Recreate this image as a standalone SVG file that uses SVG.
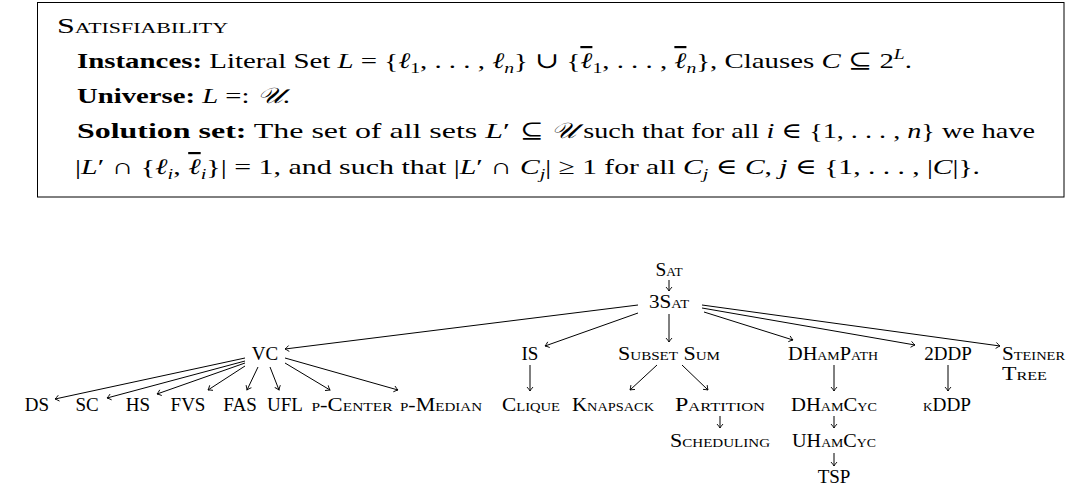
<svg xmlns="http://www.w3.org/2000/svg" width="1070" height="491" viewBox="0 0 1070 491">
<style>
text{font-family:"Liberation Serif","DejaVu Serif",serif;fill:#000}
.box text{font-size:22px}
.b{font-weight:bold}
.i{font-style:italic}
.sc{font-variant:small-caps}
.ov{text-decoration:overline}
.n text{font-size:19px;font-variant:small-caps;text-anchor:middle}
.n text.l{text-anchor:start}
.e line{stroke:#000;stroke-width:1;fill:none;marker-end:url(#ah)}
</style>
<defs>
<marker id="ah" viewBox="-5 -4 6 8" markerWidth="6" markerHeight="8" refX="0" refY="0" orient="auto" markerUnits="userSpaceOnUse">
<path d="M-4,-3 Q-1.5,-0.8 0,0 Q-1.5,0.8 -4,3" fill="none" stroke="#000" stroke-width="0.9"/>
</marker>
</defs>
<rect x="37.5" y="2.5" width="1026.5" height="194.5" fill="#fff" stroke="#000" stroke-width="1"/>
<g class="box">
<text x="57" y="33" class="sc" textLength="171" lengthAdjust="spacingAndGlyphs">Satisfiability</text>
<text x="77" y="68" textLength="835" lengthAdjust="spacingAndGlyphs"><tspan class="b">Instances:</tspan> Literal Set <tspan class="i">L</tspan> = {<tspan class="i">ℓ</tspan><tspan font-size="15" dy="5">1</tspan><tspan dy="-5">, . . . , </tspan><tspan class="i">ℓ</tspan><tspan font-size="15" class="i" dy="5">n</tspan><tspan dy="-5">} ∪ {</tspan><tspan class="i ov">ℓ</tspan><tspan font-size="15" dy="5">1</tspan><tspan dy="-5">, . . . , </tspan><tspan class="i ov">ℓ</tspan><tspan font-size="15" class="i" dy="5">n</tspan><tspan dy="-5">}, Clauses </tspan><tspan class="i">C</tspan> ⊆ 2<tspan font-size="15" class="i" dy="-9">L</tspan><tspan dy="9">.</tspan></text>
<text x="77" y="103" textLength="213" lengthAdjust="spacingAndGlyphs"><tspan class="b">Universe:</tspan> <tspan class="i">L</tspan> =: <tspan class="i">𝒰</tspan>.</text>
<text x="77" y="138" textLength="433" lengthAdjust="spacingAndGlyphs"><tspan class="b">Solution set:</tspan> The set of all sets <tspan class="i">L</tspan>′</text>
<text x="520" y="138" textLength="515" lengthAdjust="spacingAndGlyphs">⊆ <tspan class="i">𝒰</tspan> such that for all <tspan class="i">i</tspan> ∈ {1, . . . , <tspan class="i">n</tspan>} we have</text>
<text x="75" y="174" textLength="437" lengthAdjust="spacingAndGlyphs">|<tspan class="i">L</tspan>′ ∩ {<tspan class="i">ℓ</tspan><tspan font-size="15" class="i" dy="5">i</tspan><tspan dy="-5">, </tspan><tspan class="i ov">ℓ</tspan><tspan font-size="15" class="i" dy="5">i</tspan><tspan dy="-5">}| = 1, and such that |</tspan><tspan class="i">L</tspan>′ ∩</text>
<text x="520" y="174" textLength="460" lengthAdjust="spacingAndGlyphs"><tspan class="i">C</tspan><tspan font-size="15" class="i" dy="5">j</tspan><tspan dy="-5">| ≥ 1 for all </tspan><tspan class="i">C</tspan><tspan font-size="15" class="i" dy="5">j</tspan><tspan dy="-5"> ∈ </tspan><tspan class="i">C</tspan>, <tspan class="i">j</tspan> ∈ {1, . . . , |<tspan class="i">C</tspan>|}.</text>
</g>
<g class="n">
<g id="sat"><text x="669" y="276" textLength="27" lengthAdjust="spacingAndGlyphs">Sat</text></g>
<g id="3sat"><text x="669" y="308" textLength="40" lengthAdjust="spacingAndGlyphs">3Sat</text></g>
<g id="vc"><text x="265" y="360">VC</text></g>
<g id="is"><text x="530" y="360">IS</text></g>
<g id="subsetsum"><text x="669" y="360" textLength="102" lengthAdjust="spacingAndGlyphs">Subset Sum</text></g>
<g id="dhampath"><text x="833" y="360" textLength="90" lengthAdjust="spacingAndGlyphs">DHamPath</text></g>
<g id="2ddp"><text x="948" y="360">2DDP</text></g>
<g id="steiner"><text class="l" x="1002" y="360" textLength="63" lengthAdjust="spacingAndGlyphs">Steiner</text><text class="l" x="1002" y="380" textLength="45" lengthAdjust="spacingAndGlyphs">Tree</text></g>
<g id="ds"><text x="37" y="411">DS</text></g>
<g id="sc"><text x="87" y="411">SC</text></g>
<g id="hs"><text x="138" y="411">HS</text></g>
<g id="fvs"><text x="188" y="411">FVS</text></g>
<g id="fas"><text x="240" y="411">FAS</text></g>
<g id="ufl"><text x="285" y="411">UFL</text></g>
<g id="pcenter"><text x="352" y="411" textLength="81" lengthAdjust="spacingAndGlyphs">p-Center</text></g>
<g id="pmedian"><text x="441" y="411" textLength="82" lengthAdjust="spacingAndGlyphs">p-Median</text></g>
<g id="clique"><text x="531" y="411" textLength="58" lengthAdjust="spacingAndGlyphs">Clique</text></g>
<g id="knapsack"><text x="613" y="411" textLength="82" lengthAdjust="spacingAndGlyphs">Knapsack</text></g>
<g id="partition"><text x="720" y="411" textLength="90" lengthAdjust="spacingAndGlyphs">Partition</text></g>
<g id="dhamcyc"><text x="834" y="411" textLength="86" lengthAdjust="spacingAndGlyphs">DHamCyc</text></g>
<g id="kddp"><text x="947" y="411" textLength="48" lengthAdjust="spacingAndGlyphs">κDDP</text></g>
<g id="scheduling"><text x="720" y="447" textLength="100" lengthAdjust="spacingAndGlyphs">Scheduling</text></g>
<g id="uhamcyc"><text x="834" y="447" textLength="84" lengthAdjust="spacingAndGlyphs">UHamCyc</text></g>
<g id="tsp"><text x="834" y="483">TSP</text></g>
</g>
<g class="e">
<line x1="669" y1="280" x2="669" y2="291"/>
<line x1="638" y1="305" x2="285" y2="349"/>
<line x1="638" y1="313" x2="545" y2="346"/>
<line x1="669" y1="314" x2="669" y2="342"/>
<line x1="704" y1="312" x2="793" y2="340"/>
<line x1="702" y1="308" x2="915" y2="345"/>
<line x1="702" y1="305" x2="1000" y2="346"/>
<line x1="245" y1="358" x2="55" y2="399"/>
<line x1="245" y1="361" x2="107" y2="398"/>
<line x1="245" y1="363" x2="157" y2="394"/>
<line x1="245" y1="366" x2="208" y2="390"/>
<line x1="258" y1="367" x2="247" y2="390"/>
<line x1="270" y1="367" x2="279" y2="390"/>
<line x1="285" y1="363" x2="330" y2="390"/>
<line x1="285" y1="358" x2="398" y2="390"/>
<line x1="530" y1="365" x2="530" y2="391"/>
<line x1="657" y1="365" x2="630" y2="390"/>
<line x1="682" y1="365" x2="708" y2="390"/>
<line x1="834" y1="365" x2="834" y2="391"/>
<line x1="948" y1="365" x2="948" y2="391"/>
<line x1="720" y1="416" x2="720" y2="428"/>
<line x1="834" y1="416" x2="834" y2="428"/>
<line x1="834" y1="453" x2="834" y2="466"/>
</g>
</svg>
